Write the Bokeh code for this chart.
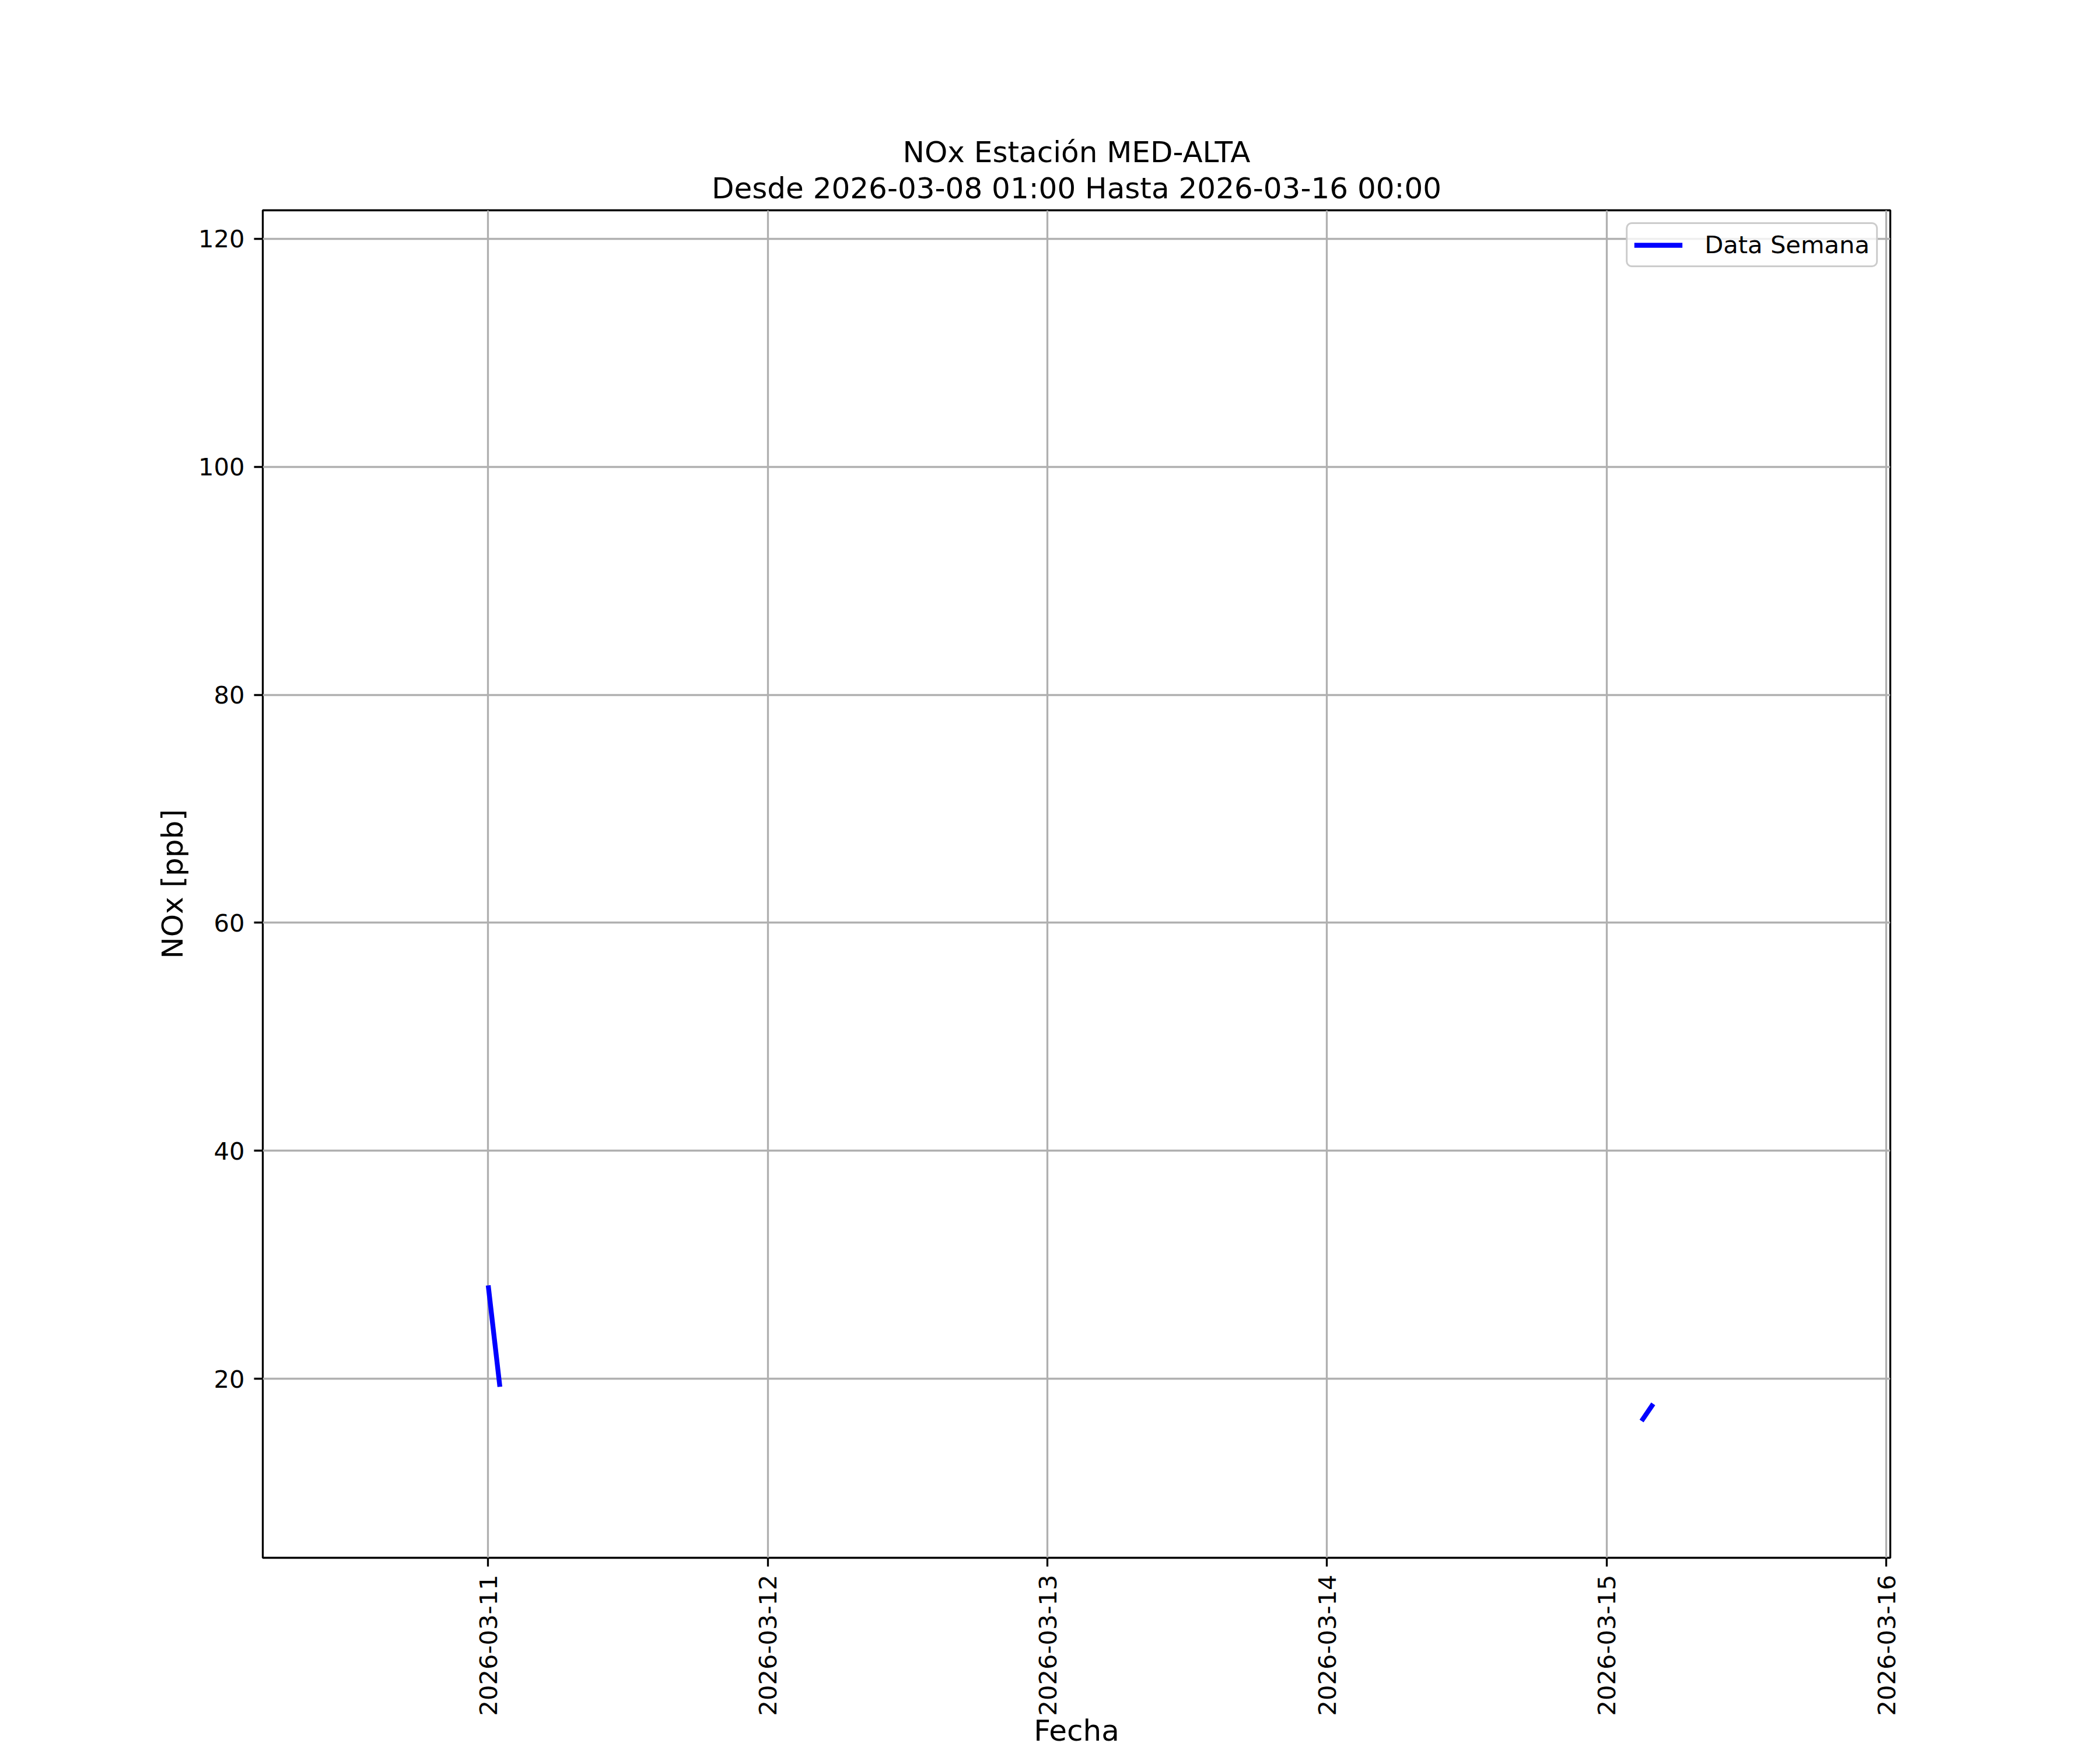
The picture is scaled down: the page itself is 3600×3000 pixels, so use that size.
import numpy as np
import pandas as pd
from math import pi
from bokeh.plotting import figure
from bokeh.models import (Range1d, Title, DatetimeTickFormatter, FixedTicker,
                          Legend, LegendItem, ColumnDataSource)
from bokeh.embed import file_html
from bokeh.resources import INLINE

# ---------------- data ----------------
times = ["2026-03-11 00:00", "2026-03-11 01:00", "2026-03-11 02:00",
         "2026-03-15 03:00", "2026-03-15 04:00"]
nox = [28.2, 19.3, np.nan, 16.3, 17.8]

x_start = "2026-03-10 04:39"
x_end = "2026-03-16 00:21"
y_start, y_end = 4.3, 122.5

x_ticks = ["2026-03-11", "2026-03-12", "2026-03-13", "2026-03-14", "2026-03-15", "2026-03-16"]
y_ticks = [20, 40, 60, 80, 100, 120]

title_1 = "NOx Estación MED-ALTA"
title_2 = "Desde 2026-03-08 01:00 Hasta 2026-03-16 00:00"
x_label = "Fecha"
y_label = "NOx [ppb]"
legend_label = "Data Semana"

# ---------------- figure ----------------
FONT = "DejaVu Sans"
W, H = 3600, 3000
FL, FR, FT, FB = 450, 3240, 360, 2670   # frame edges

src = ColumnDataSource(dict(t=pd.to_datetime(times), v=nox))

p = figure(width=W, height=H, x_axis_type="datetime",
           output_backend="svg", toolbar_location=None,
           x_range=Range1d(pd.Timestamp(x_start), pd.Timestamp(x_end)),
           y_range=Range1d(y_start, y_end),
           min_border_left=FL, min_border_right=W - FR,
           min_border_top=FT, min_border_bottom=H - FB)
p.background_fill_color = "white"
p.border_fill_color = "white"
p.outline_line_color = "black"
p.outline_line_width = 3.3
p.outline_line_alpha = 1.0

# titles: p.title is the outer line, the added Title is next to the frame
p.title.text = title_1
p.title.align = "center"
p.title.text_font = FONT
p.title.text_font_size = "50px"
p.title.text_font_style = "normal"
p.title.text_color = "black"
p.title.standoff = -12
sub = Title(text=title_2, align="center", text_font=FONT, text_font_size="50px",
            text_font_style="normal", text_color="black", standoff=17)
p.add_layout(sub, "above")

r = p.line("t", "v", source=src, line_color="blue", line_width=8.3)

tick_ms = [pd.Timestamp(t).value // 10**6 for t in x_ticks]
p.xaxis.ticker = FixedTicker(ticks=tick_ms)
fmt = "%Y-%m-%d"
p.xaxis.formatter = DatetimeTickFormatter(
    microseconds=fmt, milliseconds=fmt, seconds=fmt, minsec=fmt,
    minutes=fmt, hourmin=fmt, hours=fmt, days=fmt, months=fmt, years=fmt)
p.yaxis.ticker = FixedTicker(ticks=y_ticks)

for ax in (p.xaxis, p.yaxis):
    ax.axis_line_color = None
    ax.major_tick_out = 15
    ax.major_tick_in = 0
    ax.major_tick_line_width = 3.3
    ax.major_tick_line_color = "black"
    ax.minor_tick_line_color = None
    ax.major_label_text_font = FONT
    ax.major_label_text_font_size = "41.67px"
    ax.major_label_text_color = "black"
    ax.axis_label_text_font = FONT
    ax.axis_label_text_font_size = "50px"
    ax.axis_label_text_font_style = "normal"
    ax.axis_label_text_color = "black"

p.xaxis.major_label_orientation = pi / 2
p.xaxis.major_label_standoff = 14
p.yaxis.major_label_standoff = 16
p.xaxis.axis_label = x_label
p.xaxis.axis_label_standoff = -7
p.yaxis.axis_label = y_label
p.yaxis.axis_label_standoff = 12

p.grid.grid_line_color = "#b0b0b0"
p.grid.grid_line_width = 3.3
p.grid.grid_line_alpha = 1.0

legend = Legend(items=[LegendItem(label=legend_label, renderers=[r])],
                location="top_right")
legend.margin = 21
legend.padding = 11
legend.spacing = 0
legend.glyph_width = 83
legend.glyph_height = 40
legend.label_height = 40
legend.label_standoff = 38
legend.label_text_font = FONT
legend.label_text_font_size = "41.67px"
legend.label_text_color = "black"
legend.border_line_color = "#cccccc"
legend.border_line_width = 3.3
legend.border_line_alpha = 1.0
legend.background_fill_alpha = 0.8
if "border_radius" in Legend.properties():
    legend.border_radius = 10
p.add_layout(legend, "center")

open("out.html", "w").write(file_html(p, INLINE))
